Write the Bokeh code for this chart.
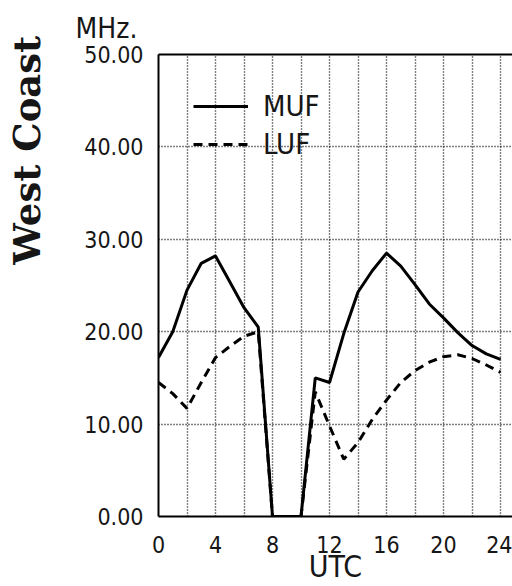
from bokeh.plotting import figure
from bokeh.models import Range1d, FixedTicker, NumeralTickFormatter, Legend, LinearAxis, Title
from bokeh.embed import file_html
from bokeh.resources import INLINE

# ---- data ----
hours = [0, 1, 2, 3, 4, 5, 6, 7, 8, 9, 10, 11, 12, 13, 14, 15, 16, 17, 18, 19, 20, 21, 22, 23, 24]
muf = [17.2, 20.0, 24.5, 27.4, 28.2, 25.4, 22.6, 20.5, 0, 0, 0, 15.0, 14.5, 19.8, 24.3, 26.6, 28.5,
       27.1, 25.1, 23.0, 21.5, 19.9, 18.5, 17.6, 17.0]
luf = [14.5, 13.3, 11.7, 14.5, 17.2, 18.4, 19.5, 20.0, 0, 0, 0, 13.5, 9.8, 6.2, 8.0, 10.5, 12.6,
       14.5, 15.8, 16.7, 17.3, 17.5, 17.1, 16.4, 15.6]
x_ticks = [0, 4, 8, 12, 16, 20, 24]
x_grid = [2, 4, 6, 8, 10, 12, 14, 16, 18, 20, 22, 24]
y_ticks = [0, 10, 20, 30, 40, 50]
y_grid = [10, 20, 30, 40]
series_names = ["MUF", "LUF"]
y_unit = "MHz."
x_title = "UTC"
side_title = "West Coast"

NARROW = "DejaVu Sans Condensed"
INK = "#161616"

p = figure(width=512, height=586, output_backend="svg", toolbar_location=None,
           x_range=Range1d(0, 24.84), y_range=Range1d(0, 50),
           min_border_left=158, min_border_right=0, min_border_top=53, min_border_bottom=68)
p.outline_line_color = None
p.background_fill_color = "white"
p.border_fill_color = "white"

# axes
p.xaxis.ticker = FixedTicker(ticks=x_ticks)
p.yaxis.ticker = FixedTicker(ticks=y_ticks)
p.yaxis.formatter = NumeralTickFormatter(format="0.00")
for ax in (p.xaxis[0], p.yaxis[0]):
    ax.axis_line_width = 2
    ax.axis_line_color = "black"
    ax.major_tick_in = 0
    ax.major_tick_out = 0
    ax.minor_tick_line_color = None
    ax.major_label_text_font = NARROW
    ax.major_label_text_font_size = "23px"
    ax.major_label_text_color = INK
p.xaxis.major_label_standoff = 19
p.yaxis.major_label_standoff = 15
p.xaxis.axis_label = x_title
p.xaxis.axis_label_standoff = -7
p.xaxis.axis_label_text_font = NARROW
p.xaxis.axis_label_text_font_size = "30px"
p.xaxis.axis_label_text_font_style = "normal"
p.xaxis.axis_label_text_color = INK

# side title: label of an extra, invisible left axis; leading no-break spaces lift it
# toward the top of the axis, as in the original
side_axis = LinearAxis(ticker=FixedTicker(ticks=[]),
                       axis_line_color=None, major_tick_line_color=None, minor_tick_line_color=None,
                       major_label_text_font_size="0px", major_label_standoff=0,
                       axis_label="\u00a0" * 21 + side_title, axis_label_standoff=33,
                       axis_label_text_font="DejaVu Serif", axis_label_text_font_size="37px",
                       axis_label_text_font_style="bold", axis_label_text_color=INK)
p.add_layout(side_axis, "left")

top_axis = LinearAxis(ticker=FixedTicker(ticks=[]), axis_line_width=2, axis_line_color="black",
                      major_tick_line_color=None, minor_tick_line_color=None,
                      major_label_text_font_size="0px", major_label_standoff=0)
p.add_layout(top_axis, "above")

# grids
p.xgrid.ticker = FixedTicker(ticks=x_grid)
p.ygrid.ticker = FixedTicker(ticks=y_grid)
for g in (p.xgrid[0], p.ygrid[0]):
    g.grid_line_color = "black"
    g.grid_line_dash = "1 2"
    g.grid_line_width = 1.4

# series
r1 = p.line(hours, muf, line_color="black", line_width=3)
r2 = p.line(hours, luf, line_color="black", line_width=3, line_dash="9 6")

legend = Legend(items=[(series_names[0], [r1]), (series_names[1], [r2])], location="top_left",
                margin=35, padding=10, spacing=4, glyph_width=55, glyph_height=30,
                label_height=30, label_standoff=15,
                label_text_font=NARROW, label_text_font_size="29px", label_text_color=INK,
                background_fill_alpha=0, border_line_color=None)
p.add_layout(legend)

# unit text above the frame
p.add_layout(Title(text=y_unit, align="left", offset=-83, standoff=19, text_font=NARROW,
                   text_font_size="28px", text_font_style="normal", text_color=INK), "above")

open("out.html", "w").write(file_html(p, INLINE))
